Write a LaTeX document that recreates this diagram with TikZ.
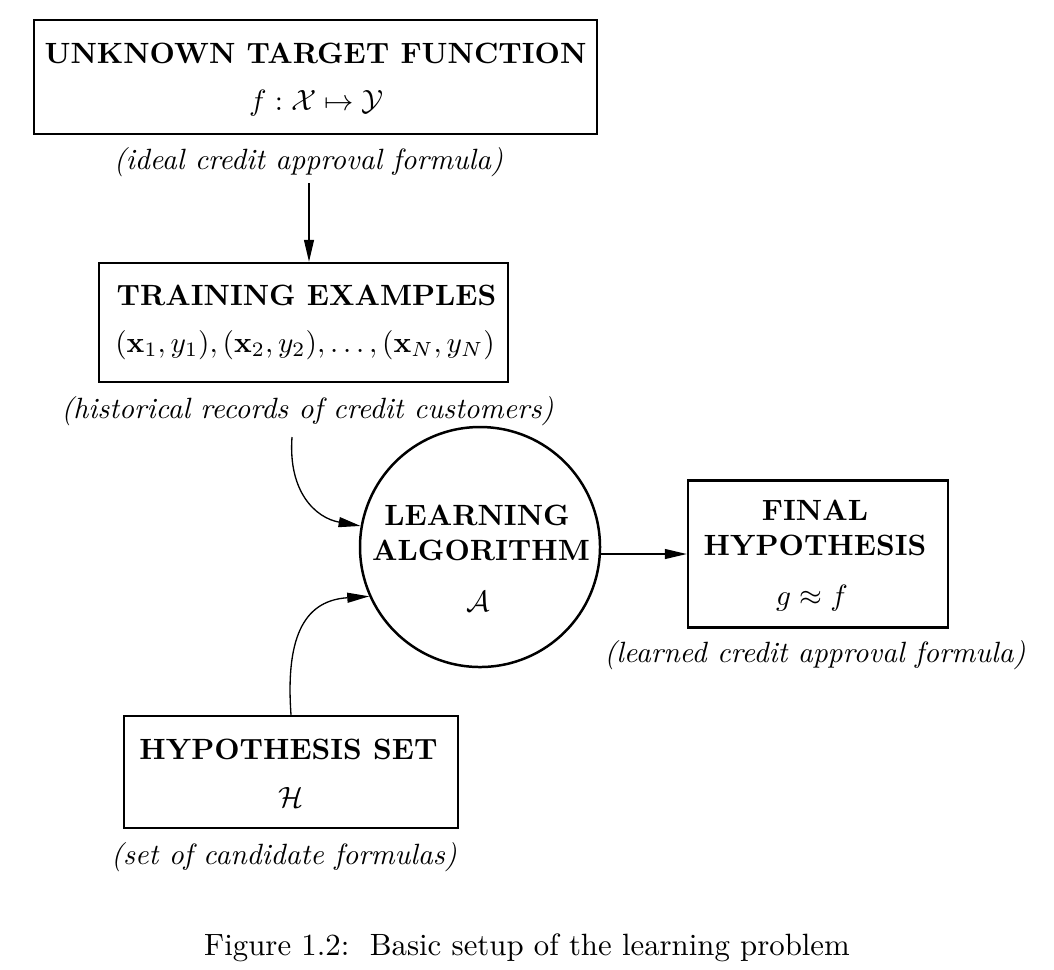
\documentclass[tikz,border=0pt]{standalone}
\usepackage{amsmath,amssymb}
\usetikzlibrary{arrows.meta}
\newcommand\myu{0.341pt}
\begin{document}
\begin{tikzpicture}[x=\myu,y=-\myu,
  box/.style={draw, line width=0.85pt, rectangle, inner sep=0pt},
  ring/.style={draw, line width=0.85pt, circle, inner sep=0pt},
  txt/.style={anchor=base, inner sep=0pt},
  ttl/.style={txt, font=\bfseries},
  lbl/.style={txt, font=\itshape},
  arr/.style={line width=0.45pt, -{Triangle[length=7.5pt,width=3.4pt]}}]
\useasboundingbox (0,0) rectangle (1054,969);

% boxes
\node[box, minimum width=563*\myu, minimum height=114*\myu] (target) at (315.5,77) {};
\node[box, minimum width=409*\myu, minimum height=119*\myu] (train) at (303.5,322.5) {};
\node[ring, minimum size=240*\myu] (alg) at (480,547) {};
\node[box, minimum width=260*\myu, minimum height=147*\myu] (final) at (818,554) {};
\node[box, minimum width=334*\myu, minimum height=112*\myu] (hyp) at (291,772) {};

% texts
\node[ttl] (targetT) at (315.5,63) {UNKNOWN TARGET FUNCTION};
\node[txt] (targetM) at (316.5,110) {$f:\mathcal{X}\mapsto\mathcal{Y}$};
\node[lbl] (targetL) at (308.5,169) {(ideal credit approval formula)};

\node[ttl] (trainT) at (306.5,305) {TRAINING EXAMPLES};
\node[txt] (trainM) at (305,352) {$(\mathbf{x}_1,y_1),(\mathbf{x}_2,y_2),\ldots,(\mathbf{x}_N,y_N)$};
\node[lbl] (trainL) at (307.5,418) {(historical records of credit customers)};

\node[ttl] (algT1) at (477,525) {LEARNING};
\node[ttl] (algT2) at (481,560) {ALGORITHM};
\node[txt] (algM) at (478,611) {$\mathcal{A}$};

\node[ttl] (finalT1) at (815,520) {FINAL};
\node[ttl] (finalT2) at (815,555) {HYPOTHESIS};
\node[txt] (finalM) at (812,605) {$g\approx f$};
\node[lbl] (finalL) at (815,662) {(learned credit approval formula)};

\node[ttl] (hypT) at (288.5,759) {HYPOTHESIS SET};
\node[txt] (hypM) at (291,807) {$\mathcal{H}$};
\node[lbl] (hypL) at (284,864) {(set of candidate formulas)};

\node[txt, font=\fontsize{10.5}{12}\selectfont] (cap) at (527,955) {Figure 1.2:\ \ Basic setup of the learning problem};

% connectors
\coordinate (s0) at (309,183);
\draw[arr] (s0) -- (s0 |- train.north);
\coordinate (s1) at (292,437);
\draw[arr] (s1) .. controls +(-4,55) and +(-45,-8) .. (alg.170);
\draw[arr] (hyp.north) .. controls +(-6,-83) and +(-62,4) .. (alg.204);
\draw[arr] (alg.east |- final.west) -- (final.west);
\end{tikzpicture}
\end{document}
